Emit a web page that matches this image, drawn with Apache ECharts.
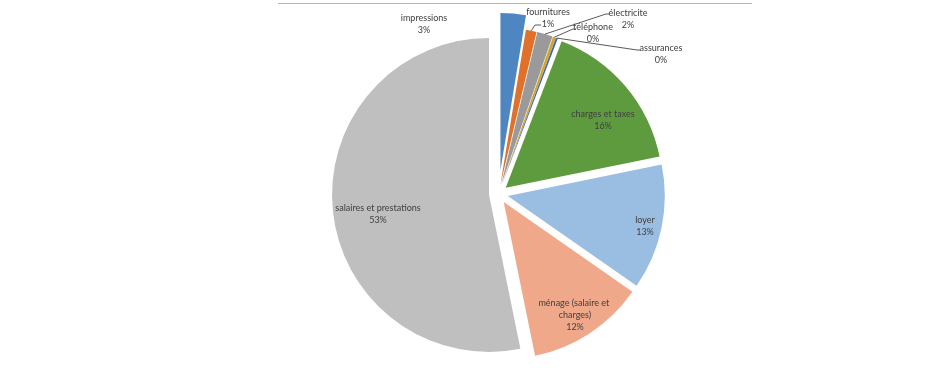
<!DOCTYPE html>
<html>
<head>
<meta charset="utf-8">
<script src="https://cdn.jsdelivr.net/npm/echarts@6/dist/echarts.min.js"></script>
<style>
html,body{margin:0;padding:0;background:#ffffff;}
#chart{width:929px;height:375px;}
</style>
</head>
<body>
<div id="chart"></div>
<script>
// ---- data ----
const categories = [
  'impressions',
  'fournitures',
  'électricite',
  'téléphone',
  'assurances',
  'charges et taxes',
  'loyer',
  'ménage (salaire et charges)',
  'salaires et prestations'
];
const shares = [2.6, 1.1, 1.6, 0.3, 0.2, 16.0, 12.9, 12.1, 53.2];

// ---- styles / layout (kept apart from the data) ----
const sliceColors = ['#4E86C2', '#E0702A', '#9A9A9A', '#D9A520', '#3E67B1', '#5E9B3E', '#9ABDE2', '#F0A88A', '#BFBFBF'];
const CX = 498.5, CY = 194, R = 157, OFF = 9.5, OFF_FIRST = 24;
const FONT = "Lato, 'Liberation Sans', Arial, sans-serif";
// label centres and leader-line bends (label placement, as Excel "best fit" put them)
const labelPlacement = [
  {x: 424, y: 24, pos: 'outside', line: null},
  {x: 548, y: 18.5, pos: 'outside', line: [[535, 25], [541, 25]]},
  {x: 628, y: 19, pos: 'outside', line: [[606, 14], [609, 14]]},
  {x: 593, y: 33.5, pos: 'outside', line: [[573, 29], [576, 29]]},
  {x: 661, y: 54.5, pos: 'outside', line: [[637, 50], [640, 50]]},
  {x: 603, y: 120, pos: 'inside', line: null},
  {x: 645, y: 226, pos: 'inside', line: null},
  {x: 575, y: 315, pos: 'inside', line: null, width: 80},
  {x: 378, y: 214, pos: 'inside', line: null}
];

const transparent = 'rgba(0,0,0,0)';
const common = {
  type: 'pie',
  center: [CX, CY],
  startAngle: 90,
  clockwise: true,
  avoidLabelOverlap: false,
  animation: false,
  minAngle: 0,
  label: {show: false},
  labelLine: {show: false},
  emphasis: {disabled: true, scale: false},
  select: {itemStyle: {borderWidth: 0}, label: {show: false}, labelLine: {show: false}}
};

const chart = echarts.init(document.getElementById('chart'), null, {renderer: 'canvas'});

const option = {
  backgroundColor: '#ffffff',
  graphic: [{
    type: 'line', silent: true,
    shape: {x1: 278, y1: 3.5, x2: 752, y2: 3.5},
    style: {stroke: '#b4b4b4', lineWidth: 1}
  }],
  series: [
    Object.assign({}, common, {
      name: 'main',
      radius: R,
      selectedMode: 'multiple',
      selectedOffset: OFF,
      z: 2,
      data: categories.map((n, i) => ({
        name: n, value: shares[i], selected: i !== 0,
        itemStyle: {color: i === 0 ? transparent : sliceColors[i], borderWidth: 0}
      }))
    }),
    Object.assign({}, common, {
      name: 'first',
      radius: R,
      selectedMode: 'multiple',
      selectedOffset: OFF_FIRST,
      z: 2,
      data: categories.map((n, i) => ({
        name: n, value: shares[i], selected: i === 0,
        itemStyle: {color: i === 0 ? sliceColors[i] : transparent, borderWidth: 0}
      }))
    }),
    Object.assign({}, common, {
      name: 'labels',
      radius: R + OFF,
      silent: true,
      selectedMode: false,
      percentPrecision: 0,
      z: 5,
      itemStyle: {color: transparent, borderWidth: 0},
      label: {
        show: true,
        formatter: '{b}\n{d}%',
        fontFamily: FONT,
        fontSize: 9,
        lineHeight: 12,
        color: '#404040',
        align: 'center'
      },
      labelLine: {show: true, length: 10, length2: 5, smooth: false,
        lineStyle: {color: '#5a5a5a', width: 1}},
      labelLayout: function (params) {
        const p = labelPlacement[params.dataIndex];
        const res = {x: p.x, y: p.y, align: 'center', verticalAlign: 'middle'};
        if (p.line && params.labelLinePoints) {
          const p0 = params.labelLinePoints[0];
          res.labelLinePoints = [[p0[0], p0[1]], p.line[0], p.line[1]];
        }
        return res;
      },
      data: categories.map((n, i) => {
        const p = labelPlacement[i];
        const item = {
          name: n, value: shares[i],
          itemStyle: {color: transparent},
          label: {position: p.pos},
          labelLine: {show: !!p.line}
        };
        if (p.width) {
          item.label.width = p.width;
          item.label.overflow = 'break';
        }
        return item;
      })
    })
  ]
};
chart.setOption(option);
</script>
</body>
</html>
